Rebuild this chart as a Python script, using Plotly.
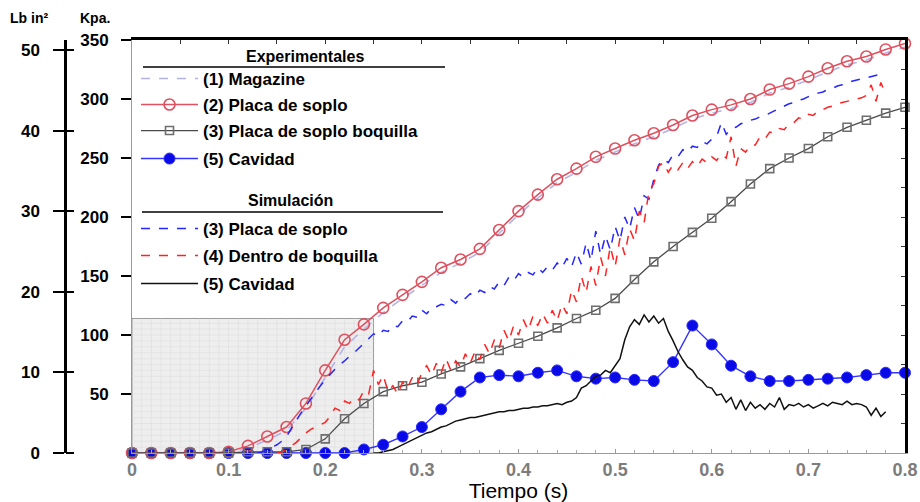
import plotly.graph_objects as go

# ---------------- data ----------------
# experimental series, sampled every 0.02 s
T_EXP = [0.00, 0.02, 0.04, 0.06, 0.08, 0.10, 0.12, 0.14, 0.16, 0.18,
         0.20, 0.22, 0.24, 0.26, 0.28, 0.30, 0.32, 0.34, 0.36, 0.38,
         0.40, 0.42, 0.44, 0.46, 0.48, 0.50, 0.52, 0.54, 0.56, 0.58,
         0.60, 0.62, 0.64, 0.66, 0.68, 0.70, 0.72, 0.74, 0.76, 0.78, 0.80]

MAGAZINE = [0, 0, 0, 0, 0, 0, 4, 11, 19, 38,
            64, 90, 105, 119, 131, 142, 153, 161, 170, 186,
            202, 216, 229, 238, 248, 255, 262, 268, 275, 283,
            288, 292, 297, 305, 310, 316, 323, 329, 333, 339, 344]

PLACA_SOPLO = [0, 0, 0, 0, 0, 1, 6, 14, 22, 42,
               70, 96, 109, 123, 134, 145, 157, 164, 173, 189,
               205, 219, 232, 241, 251, 258, 265, 271, 278, 286,
               291, 295, 300, 308, 313, 319, 326, 332, 336, 342, 347]

PLACA_BOQUILLA = [0, 0, 0, 0, 0, 0, 1, 1, 1, 3,
                  12, 29, 42, 52, 57, 60, 67, 73, 80, 87,
                  93, 99, 106, 114, 121, 131, 147, 162, 175, 187,
                  199, 213, 228, 241, 250, 258, 268, 276, 282, 288, 293]

CAVIDAD_EXP = [0, 0, 0, 0, 0, 0, 0, 0, 0, 0,
               0, 0, 3, 7, 14, 22, 37, 52, 64, 66,
               65, 68, 70, 65, 63, 64, 62, 61, 77, 108,
               92, 74, 65, 61, 61, 62, 63, 64, 66, 68, 68]

# simulated pressure at the blow plate, sampled every 0.005 s
T_SIM_PLACA = [0.130, 0.135, 0.140, 0.145, 0.150, 0.155, 0.160, 0.165, 0.170, 0.175,
               0.180, 0.185, 0.190, 0.195, 0.200, 0.205, 0.210, 0.215, 0.220, 0.225,
               0.230, 0.235, 0.240, 0.245, 0.250, 0.255, 0.260, 0.265, 0.270, 0.275,
               0.280, 0.285, 0.290, 0.295, 0.300, 0.305, 0.310, 0.315, 0.320, 0.325,
               0.330, 0.335, 0.340, 0.345, 0.350, 0.355, 0.360, 0.365, 0.370, 0.375,
               0.380, 0.385, 0.390, 0.395, 0.400, 0.405, 0.410, 0.415, 0.420, 0.425,
               0.430, 0.435, 0.440, 0.445, 0.450, 0.455, 0.460, 0.465, 0.470, 0.475,
               0.480, 0.485, 0.490, 0.495, 0.500, 0.505, 0.510, 0.515, 0.520, 0.525,
               0.530, 0.535, 0.540, 0.545, 0.550, 0.555, 0.560, 0.565, 0.570, 0.575,
               0.580, 0.585, 0.590, 0.595, 0.600, 0.605, 0.610, 0.615, 0.620, 0.625,
               0.630, 0.635, 0.640, 0.645, 0.650, 0.655, 0.660, 0.665, 0.670, 0.675,
               0.680, 0.685, 0.690, 0.695, 0.700, 0.705, 0.710, 0.715, 0.720, 0.725,
               0.730, 0.735, 0.740, 0.745, 0.750, 0.755, 0.760, 0.765, 0.770, 0.775,
               0.780]
SIM_PLACA = [0, 1, 3, 5, 7, 10, 14, 21, 28, 34,
             40, 46, 52, 57, 62, 67, 71, 75, 78, 82,
             85, 89, 93, 97, 101, 99, 104, 103, 108, 107,
             112, 111, 116, 115, 121, 118, 123, 124, 126, 125,
             130, 127, 132, 131, 135, 133, 138, 136, 141, 139,
             145, 142, 149, 146, 152, 149, 153, 151, 157, 153,
             158, 155, 161, 157, 165, 158, 170, 160, 178, 163,
             188, 168, 184, 172, 192, 180, 200, 190, 208, 198,
             218, 215, 232, 244, 249, 246, 253, 251, 257, 255,
             260, 259, 264, 262, 266, 268, 280, 270, 275, 276,
             279, 280, 282, 283, 285, 286, 288, 290, 292, 294,
             296, 297, 299, 300, 302, 303, 305, 306, 308, 309,
             311, 312, 313, 315, 316, 317, 318, 319, 320, 321,
             320]

# simulated pressure inside the nozzle
T_SIM_BOQUILLA = [0.150, 0.155, 0.160, 0.165, 0.170, 0.175, 0.180, 0.185, 0.190, 0.195,
                  0.200, 0.205, 0.210, 0.215, 0.220, 0.225, 0.230, 0.235, 0.240, 0.245,
                  0.250, 0.255, 0.260, 0.265, 0.270, 0.275, 0.280, 0.285, 0.290, 0.295,
                  0.300, 0.305, 0.310, 0.315, 0.320, 0.325, 0.330, 0.335, 0.340, 0.345,
                  0.350, 0.355, 0.360, 0.365, 0.370, 0.375, 0.380, 0.385, 0.390, 0.395,
                  0.400, 0.405, 0.410, 0.415, 0.420, 0.425, 0.430, 0.435, 0.440, 0.445,
                  0.450, 0.455, 0.460, 0.465, 0.470, 0.475, 0.480, 0.485, 0.490, 0.495,
                  0.500, 0.505, 0.510, 0.515, 0.520, 0.525, 0.530, 0.535, 0.540, 0.545,
                  0.550, 0.555, 0.560, 0.565, 0.570, 0.575, 0.580, 0.585, 0.590, 0.595,
                  0.600, 0.605, 0.610, 0.615, 0.620, 0.625, 0.630, 0.635, 0.640, 0.645,
                  0.650, 0.655, 0.660, 0.665, 0.670, 0.675, 0.680, 0.685, 0.690, 0.695,
                  0.700, 0.705, 0.710, 0.715, 0.720, 0.725, 0.730, 0.735, 0.740, 0.745,
                  0.750, 0.755, 0.760, 0.765, 0.770, 0.775, 0.780]
SIM_BOQUILLA = [0, 1, 3, 6, 9, 13, 17, 20, 22, 24,
                26, 31, 38, 36, 44, 42, 47, 45, 53, 50,
                70, 58, 66, 52, 57, 50, 60, 55, 64, 58,
                68, 74, 66, 76, 68, 80, 70, 78, 73, 84,
                76, 86, 79, 92, 84, 96, 89, 104, 95, 108,
                100, 113, 104, 116, 108, 118, 110, 121, 112, 126,
                118, 138, 128, 150, 136, 158, 142, 166, 150, 175,
                158, 182, 168, 190, 180, 205, 195, 222, 228, 243,
                246, 238, 244, 240, 246, 241, 247, 243, 249, 246,
                251, 248, 253, 250, 268, 243, 258, 255, 261, 261,
                268, 266, 272, 271, 275, 274, 279, 280, 284, 283,
                287, 286, 290, 291, 293, 294, 296, 297, 298, 299,
                300, 301, 303, 312, 298, 314, 304]

# simulated pressure in the cavity
T_SIM_CAVIDAD = [0.250, 0.255, 0.260, 0.265, 0.270, 0.275, 0.280, 0.285, 0.290, 0.295,
                 0.300, 0.305, 0.310, 0.315, 0.320, 0.325, 0.330, 0.335, 0.340, 0.345,
                 0.350, 0.355, 0.360, 0.365, 0.370, 0.375, 0.380, 0.385, 0.390, 0.395,
                 0.400, 0.405, 0.410, 0.415, 0.420, 0.425, 0.430, 0.435, 0.440, 0.445,
                 0.450, 0.455, 0.460, 0.465, 0.470, 0.475, 0.480, 0.485, 0.490, 0.495,
                 0.500, 0.505, 0.510, 0.515, 0.520, 0.525, 0.530, 0.535, 0.540, 0.545,
                 0.550, 0.555, 0.560, 0.565, 0.570, 0.575, 0.580, 0.585, 0.590, 0.595,
                 0.600, 0.605, 0.610, 0.615, 0.620, 0.625, 0.630, 0.635, 0.640, 0.645,
                 0.650, 0.655, 0.660, 0.665, 0.670, 0.675, 0.680, 0.685, 0.690, 0.695,
                 0.700, 0.705, 0.710, 0.715, 0.720, 0.725, 0.730, 0.735, 0.740, 0.745,
                 0.750, 0.755, 0.760, 0.765, 0.770, 0.775, 0.780]
SIM_CAVIDAD = [0, 0, 1, 2, 3, 5, 7, 9, 11, 13,
               15, 17, 18, 20, 22, 23, 25, 27, 28, 29,
               30, 30, 31, 32, 33, 34, 35, 35, 36, 36,
               37, 38, 38, 39, 39, 40, 40, 41, 42, 41,
               43, 44, 47, 55, 57, 61, 65, 66, 70, 68,
               74, 80, 96, 107, 113, 109, 117, 111, 116, 110,
               114, 103, 95, 86, 79, 73, 70, 64, 61, 56,
               55, 49, 50, 43, 47, 37, 45, 36, 43, 38,
               41, 37, 42, 39, 47, 37, 41, 40, 42, 39,
               41, 38, 40, 42, 40, 43, 42, 41, 44, 41,
               42, 41, 39, 32, 38, 31, 35]

# axis ticks
X_TICKS = [0, 0.1, 0.2, 0.3, 0.4, 0.5, 0.6, 0.7, 0.8]
X_TICK_TEXT = ["0", "0.1", "0.2", "0.3", "0.4", "0.5", "0.6", "0.7", "0.8"]
KPA_TICKS = [50, 100, 150, 200, 250, 300, 350]
PSI_TICKS = [0, 10, 20, 30, 40, 50]

# detail window (time, pressure) drawn as a shaded box
ZOOM_BOX_T = [0, 0.25]
ZOOM_BOX_P = [0, 114]

# ---------------- layout geometry ----------------
W, H = 920, 502
ML, MR, MT, MB = 10, 15, 40, 49
PW, PH = W - ML - MR, H - MT - MB


def px_x(px):
    return (px - ML) / PW


def px_y(py):
    return (H - MB - py) / PH


X_DOMAIN = [px_x(132), 1.0]
# the psi scale is drawn on its own axis (about 8.06 px per psi)
PSI_RANGE = [0, PH / 8.06]

BOLD = dict(family="Liberation Sans, Arial, sans-serif", weight="bold")

fig = go.Figure()

fig.add_trace(go.Scatter(
    x=T_EXP, y=MAGAZINE, mode="lines", name="(1) Magazine",
    line=dict(color="#b4b4e6", width=1.6, dash="dash"),
    legend="legend", cliponaxis=False))

fig.add_trace(go.Scatter(
    x=T_EXP, y=CAVIDAD_EXP, mode="lines+markers", name="(5) Cavidad",
    line=dict(color="#3434ff", width=1.4),
    marker=dict(symbol="circle", size=11, color="#0a0ae6",
                line=dict(color="#2a2aff", width=1)),
    legend="legend4", cliponaxis=False))

fig.add_trace(go.Scatter(
    x=T_EXP, y=PLACA_SOPLO, mode="lines+markers", name="(2) Placa de soplo",
    line=dict(color="#e0505e", width=1.5),
    marker=dict(symbol="circle-open", size=11, color="#e0505e",
                line=dict(width=1.6)),
    legend="legend2", cliponaxis=False))

fig.add_trace(go.Scatter(
    x=T_EXP, y=PLACA_BOQUILLA, mode="lines+markers",
    name="(3) Placa de soplo boquilla",
    line=dict(color="#4a4a4a", width=1.3),
    marker=dict(symbol="square-open", size=8, color="#6e6e6e",
                line=dict(width=1.6)),
    legend="legend3", cliponaxis=False))

fig.add_trace(go.Scatter(
    x=T_SIM_PLACA, y=SIM_PLACA, mode="lines", name="(3) Placa de soplo",
    line=dict(color="#2626ff", width=1.5, dash="dash"),
    legend="legend5"))

fig.add_trace(go.Scatter(
    x=T_SIM_BOQUILLA, y=SIM_BOQUILLA, mode="lines",
    name="(4) Dentro de boquilla",
    line=dict(color="#ff2222", width=1.5, dash="dash"),
    legend="legend6"))

fig.add_trace(go.Scatter(
    x=T_SIM_CAVIDAD, y=SIM_CAVIDAD, mode="lines", name="(5) Cavidad",
    line=dict(color="#111111", width=1.5),
    legend="legend7"))

# empty traces so the auxiliary axes get drawn
for ya in ["y2", "y3", "y4"]:
    fig.add_trace(go.Scatter(x=[], y=[], yaxis=ya, showlegend=False,
                             hoverinfo="skip"))
fig.add_trace(go.Scatter(x=[], y=[], xaxis="x2", showlegend=False,
                         hoverinfo="skip"))

# ---------------- shapes ----------------
shapes = []
# shaded detail box with a fine grid
shapes.append(dict(type="rect", xref="x", yref="y",
                   x0=ZOOM_BOX_T[0], x1=ZOOM_BOX_T[1],
                   y0=ZOOM_BOX_P[0], y1=ZOOM_BOX_P[1],
                   fillcolor="#eeeeee", line=dict(color="#9a9a9a", width=1),
                   layer="below"))
for i in range(1, 25):
    shapes.append(dict(type="line", xref="x", yref="y",
                       x0=i * 0.01, x1=i * 0.01,
                       y0=ZOOM_BOX_P[0], y1=ZOOM_BOX_P[1],
                       line=dict(color="#dddddd", width=0.6), layer="below"))
for j in range(1, 23):
    shapes.append(dict(type="line", xref="x", yref="y",
                       x0=ZOOM_BOX_T[0], x1=ZOOM_BOX_T[1],
                       y0=j * 5, y1=j * 5,
                       line=dict(color="#dddddd", width=0.6), layer="below"))
# legend group underlines
shapes.append(dict(type="line", xref="paper", yref="paper",
                   x0=px_x(143), x1=px_x(445), y0=px_y(67), y1=px_y(67),
                   line=dict(color="black", width=1.6)))
shapes.append(dict(type="line", xref="paper", yref="paper",
                   x0=px_x(142), x1=px_x(443), y0=px_y(212), y1=px_y(212),
                   line=dict(color="black", width=1.6)))

# ---------------- annotations ----------------
def label(text, px, py, size):
    return dict(text=text, x=px_x(px), y=px_y(py), xref="paper", yref="paper",
                xanchor="center", yanchor="middle", showarrow=False,
                font=dict(size=size, color="black", **BOLD))


annotations = [
    label("Experimentales", 305, 57, 16),
    label("Simulación", 290, 201, 16),
    label("Lb in²", 29, 18, 14),
    label("Kpa.", 95, 18, 14),
]

# ---------------- legends: one entry each, stacked under the headers ----------------
LEG_ROWS = {"legend": 79, "legend2": 105, "legend3": 131, "legend4": 159,
            "legend5": 229, "legend6": 256, "legend7": 284}
legends = {}
for key, py in LEG_ROWS.items():
    legends[key] = dict(x=px_x(136), y=px_y(py), xanchor="left",
                        yanchor="middle", bgcolor="rgba(0,0,0,0)",
                        borderwidth=0, itemwidth=57,
                        font=dict(size=17, color="black", **BOLD))

fig.update_layout(
    width=W, height=H,
    margin=dict(l=ML, r=MR, t=MT, b=MB),
    paper_bgcolor="white", plot_bgcolor="white",
    showlegend=True,
    shapes=shapes, annotations=annotations,
    xaxis=dict(domain=X_DOMAIN, range=[0, 0.8], tickvals=X_TICKS,
               ticktext=X_TICK_TEXT, ticks="inside", ticklen=4,
               tickcolor="#999999", showline=True, linecolor="#9a9a9a",
               linewidth=1, showgrid=False, zeroline=False, automargin=False,
               minor=dict(ticks="inside", ticklen=3, dtick=0.02,
                          tickcolor="#aaaaaa"),
               tickfont=dict(size=18, color="#7c7c7c", **BOLD),
               title=dict(text="Tiempo (s)", standoff=2,
                          font=dict(size=21, color="black",
                                    family="Liberation Sans, Arial, sans-serif"))),
    xaxis2=dict(overlaying="x", side="top", anchor="y", range=[0, 0.8],
                showline=True, linecolor="black", linewidth=2.5,
                ticks="inside", ticklen=4, dtick=0.05, tickcolor="#333333",
                showticklabels=False, showgrid=False, zeroline=False),
    yaxis=dict(range=[0, 350], tickvals=KPA_TICKS, ticks="outside",
               ticklen=10, tickwidth=1.6, tickcolor="black",
               showline=True, linecolor="#9a9a9a", linewidth=1,
               showgrid=False, zeroline=False, ticklabelstandoff=9,
               automargin=False,
               tickfont=dict(size=17, color="black", **BOLD)),
    yaxis2=dict(overlaying="y", anchor="free", position=px_x(65),
                side="left", range=PSI_RANGE, tickvals=PSI_TICKS,
                ticks="outside", ticklen=11, tickwidth=2, tickcolor="black",
                showline=True, linecolor="black", linewidth=2.5,
                showgrid=False, zeroline=False, ticklabelstandoff=10,
                automargin=False,
                tickfont=dict(size=17, color="black", **BOLD)),
    yaxis3=dict(overlaying="y", anchor="free", position=px_x(65),
                side="right", range=PSI_RANGE, tickvals=PSI_TICKS,
                ticks="outside", ticklen=8, tickwidth=2, tickcolor="black",
                showline=False, showticklabels=False, showgrid=False,
                zeroline=False, automargin=False),
    yaxis4=dict(overlaying="y", anchor="x", side="right", range=[0, 350],
                showline=True, linecolor="black", linewidth=2.5,
                ticks="inside", ticklen=4, dtick=25, tickcolor="#333333",
                showticklabels=False, showgrid=False, zeroline=False,
                automargin=False),
    **legends,
)

fig.write_html("out.html")
